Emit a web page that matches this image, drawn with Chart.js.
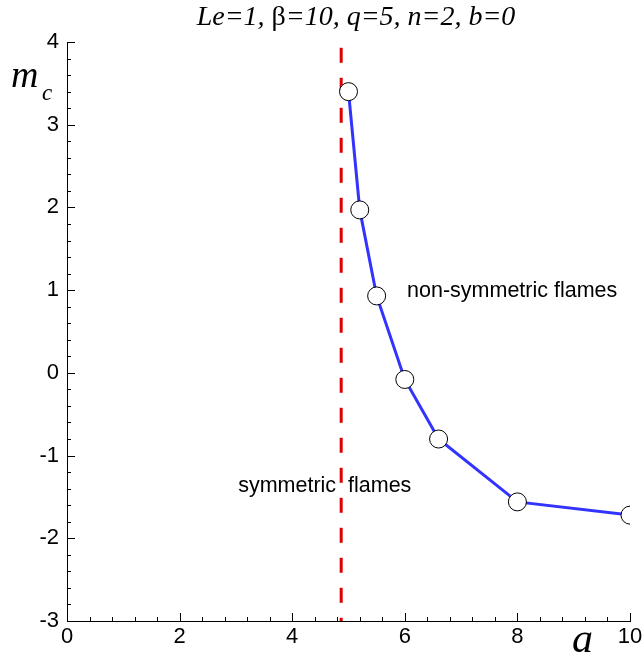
<!DOCTYPE html>
<html>
<head>
<meta charset="utf-8">
<script src="https://cdn.jsdelivr.net/npm/chart.js@4/dist/chart.umd.min.js"></script>
<style>
  html, body { margin: 0; padding: 0; background: #fff; }
</style>
</head>
<body>
<canvas id="mcChart" width="642" height="657"></canvas>
<script>
// critical m_c versus a
const aValues = [5.0, 5.2, 5.5, 6.0, 6.6, 8.0, 10.0];
const mcValues = [3.4, 1.97, 0.93, -0.08, -0.8, -1.56, -1.72];

// boundary between symmetric / non-symmetric flames
const boundaryA = 4.87;
const boundaryRange = [3.93, -3];

const xTicks = [0, 2, 4, 6, 8, 10];
const yTicks = [-3, -2, -1, 0, 1, 2, 3, 4];

const innerTicks = {
    id: 'innerTicks',
    afterDraw(chart) {
        const ctx = chart.ctx;
        const xs = chart.scales.x, ys = chart.scales.y;
        const left = chart.chartArea.left, bottom = chart.chartArea.bottom;
        ctx.save();
        ctx.strokeStyle = '#000';
        ctx.lineWidth = 1;
        ctx.beginPath();
        // x axis: major every 2, minor every 0.4
        for (let v = 0; v <= 10.001; v += 0.4) {
            const px = Math.round(xs.getPixelForValue(v)) + 0.5;
            const major = Math.abs(v / 2 - Math.round(v / 2)) < 0.01;
            ctx.moveTo(px, bottom);
            ctx.lineTo(px, bottom - (major ? 8 : 4));
        }
        // y axis: major every 1, minor every 0.2
        for (let v = -3; v <= 4.001; v += 0.2) {
            const py = Math.round(ys.getPixelForValue(v)) + 0.5;
            const major = Math.abs(v - Math.round(v)) < 0.01;
            ctx.moveTo(left, py);
            ctx.lineTo(left + (major ? 8 : 4), py);
        }
        ctx.stroke();

        // title
        const parts = [
            ['italic 28px "Liberation Serif"', 'Le=1, '],
            ['28px "Liberation Serif"', 'β'],
            ['italic 28px "Liberation Serif"', '=10, q=5, n=2, b=0']
        ];
        let total = 0;
        parts.forEach(p => { ctx.font = p[0]; total += ctx.measureText(p[1]).width; });
        let tx = 356 - total / 2;
        ctx.fillStyle = '#000';
        ctx.textBaseline = 'alphabetic';
        ctx.textAlign = 'left';
        parts.forEach(p => { ctx.font = p[0]; ctx.fillText(p[1], tx, 25); tx += ctx.measureText(p[1]).width; });

        // axis titles
        ctx.font = 'italic 38px "Liberation Serif"';
        ctx.fillText('m', 11, 87);
        ctx.font = 'italic 23px "Liberation Serif"';
        ctx.fillText('c', 42, 100);
        ctx.font = 'italic 42px "Liberation Serif"';
        ctx.fillText('a', 572, 652);

        // region labels
        ctx.font = '21.5px "Liberation Sans"';
        ctx.fillText('non-symmetric flames', xs.getPixelForValue(6.04), 297);
        ctx.fillText('symmetric  flames', xs.getPixelForValue(3.04), 492);
        ctx.restore();
    }
};

new Chart(document.getElementById('mcChart').getContext('2d'), {
    type: 'scatter',
    data: {
        datasets: [
            {
                label: 'm_c',
                data: aValues.map((a, i) => ({ x: a, y: mcValues[i] })),
                showLine: true,
                borderColor: '#3333ff',
                borderWidth: 3,
                pointRadius: 9,
                pointBackgroundColor: '#fff',
                pointBorderColor: '#000',
                pointBorderWidth: 1,
                order: 0
            },
            {
                label: 'boundary',
                data: boundaryRange.map(m => ({ x: boundaryA, y: m })),
                showLine: true,
                borderColor: '#dd0000',
                borderWidth: 3,
                borderDash: [15, 15],
                pointRadius: 0,
                order: 1
            }
        ]
    },
    options: {
        responsive: false,
        animation: false,
        events: [],
        layout: { padding: { top: 42, right: 12, left: 0, bottom: 0 } },
        plugins: { legend: { display: false }, tooltip: { enabled: false } },
        scales: {
            x: {
                type: 'linear', min: 0, max: 10,
                afterFit: s => { s.height = 36; s.paddingLeft = 0; s.paddingRight = 0; },
                afterBuildTicks: s => { s.ticks = xTicks.map(v => ({ value: v })); },
                grid: { display: false, drawTicks: false, tickLength: 0 },
                border: { display: true, color: '#000', width: 1 },
                ticks: { color: '#000', font: { family: 'Liberation Sans', size: 22 }, padding: 3, maxRotation: 0 }
            },
            y: {
                type: 'linear', min: -3, max: 4,
                afterFit: s => { s.width = 67; s.paddingTop = 0; s.paddingBottom = 0; },
                afterBuildTicks: s => { s.ticks = yTicks.map(v => ({ value: v })); },
                grid: { display: false, drawTicks: false, tickLength: 0 },
                border: { display: true, color: '#000', width: 1 },
                ticks: { color: '#000', font: { family: 'Liberation Sans', size: 22 }, padding: 8 }
            }
        }
    },
    plugins: [innerTicks]
});
</script>
</body>
</html>
